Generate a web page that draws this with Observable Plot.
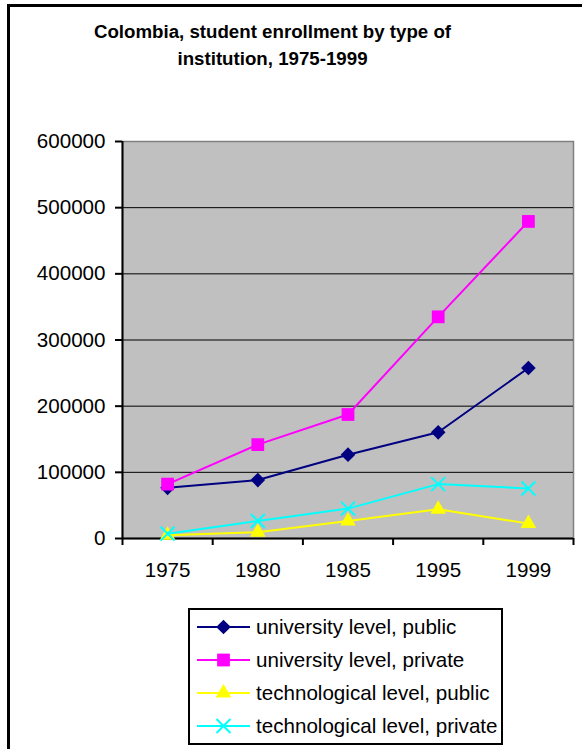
<!DOCTYPE html>
<html><head><meta charset="utf-8">
<script src="https://cdn.jsdelivr.net/npm/d3@7"></script>
<script src="https://cdn.jsdelivr.net/npm/@observablehq/plot@0.6"></script>
<style>
body{margin:0;background:#fff;font-family:"Liberation Sans",Arial,sans-serif;}
#wrap{position:relative;width:582px;height:749px;overflow:hidden;background:#fff;}
#border{position:absolute;left:7px;top:4px;width:700px;height:900px;border:3px solid #000;box-sizing:border-box;}
#title{position:absolute;left:0;top:18px;width:545px;text-align:center;font-weight:bold;font-size:18.7px;line-height:27px;color:#000;}
#chart{position:absolute;left:0;top:0;}
#legend{position:absolute;left:0;top:0;}
</style>
</head><body>
<div id="wrap">
  <div id="border"></div>
  <div id="title">Colombia, student enrollment by type of<br>institution, 1975-1999</div>
  <div id="chart"></div>
  <svg id="legend" width="582" height="749"></svg>
</div>
<script>
const years = ["1975", "1980", "1985", "1995", "1999"];
const seriesNames = ["university level, public", "university level, private", "technological level, public", "technological level, private"];
const univPublic = [76600, 88300, 126700, 160500, 257700];
const univPrivate = [82200, 141900, 187400, 335000, 479200];
const techPublic = [5000, 9500, 26500, 44300, 22500];
const techPrivate = [7300, 26500, 45200, 82200, 75600];
const yTicks = [0, 100000, 200000, 300000, 400000, 500000, 600000];

const seriesValues = [univPublic, univPrivate, techPublic, techPrivate];
const colors = ["#000080", "#FF00FF", "#FFFF00", "#00FFFF"];
const symbols = ["diamond2", "square", "triangle", "times"];
const radii = [6.6, 7.2, 5.8, 6.4];

const xDomain = [-0.5, years.length - 0.5];
const boundaries = d3.range(years.length + 1).map(i => i - 0.5);

const marks = [
  Plot.frame({fill: "#C0C0C0", stroke: "#808080", strokeWidth: 1.5}),
  Plot.ruleY(yTicks.slice(1, -1), {stroke: "#000", strokeWidth: 1}),
  Plot.axisY({ticks: yTicks, tickFormat: d3.format("d"), tickSize: 7, tickPadding: 10, strokeWidth: 2, fontSize: 20.6, label: null, color: "#000"}),
  Plot.axisX({ticks: boundaries, tickFormat: () => "", tickSize: 7, strokeWidth: 2, label: null}),
  Plot.axisX({ticks: d3.range(years.length), tickFormat: i => years[i], tickSize: 0, tickPadding: 24, fontSize: 20.6, label: null, color: "#000"}),
  Plot.ruleX([xDomain[0]], {stroke: "#000", strokeWidth: 2}),
  Plot.ruleY([0], {stroke: "#000", strokeWidth: 2})
];

seriesValues.forEach((vals, s) => {
  const data = vals.map((v, i) => ({i, v}));
  marks.push(Plot.line(data, {x: "i", y: "v", stroke: colors[s], strokeWidth: 2}));
  if (symbols[s] === "times") {
    marks.push(Plot.dot(data, {x: "i", y: "v", symbol: "times", stroke: colors[s], strokeWidth: 2, r: radii[s]}));
  } else {
    marks.push(Plot.dot(data, {x: "i", y: "v", symbol: symbols[s], fill: colors[s], stroke: "none", r: radii[s]}));
  }
});

const chart = Plot.plot({
  width: 582,
  height: 600,
  marginTop: 141,
  marginLeft: 122,
  marginRight: 9,
  marginBottom: 62,
  style: {background: "transparent", fontFamily: "'Liberation Sans', Arial, sans-serif", fontSize: "20.6px", color: "#000", overflow: "visible"},
  x: {type: "linear", domain: xDomain},
  y: {domain: [0, 600000]},
  marks
});
document.getElementById("chart").appendChild(chart);

// Legend
const lg = d3.select("#legend");
lg.append("rect").attr("x", 189).attr("y", 609).attr("width", 313).attr("height", 135)
  .attr("fill", "#fff").attr("stroke", "#000").attr("stroke-width", 2);
const symMap = {diamond2: d3.symbolDiamond2, square: d3.symbolSquare, triangle: d3.symbolTriangle, times: d3.symbolTimes};
seriesNames.forEach((name, s) => {
  const cy = 627 + 33 * s;
  const g = lg.append("g");
  g.append("line").attr("x1", 197).attr("x2", 250).attr("y1", cy).attr("y2", cy)
    .attr("stroke", colors[s]).attr("stroke-width", 2);
  const path = d3.symbol(symMap[symbols[s]], Math.PI * radii[s] * radii[s])();
  const p = g.append("path").attr("d", path).attr("transform", `translate(223.5,${cy})`);
  if (symbols[s] === "times") p.attr("fill", "none").attr("stroke", colors[s]).attr("stroke-width", 2);
  else p.attr("fill", colors[s]);
  g.append("text").attr("x", 256).attr("y", cy + 7).attr("font-size", 20.6)
    .attr("font-family", "'Liberation Sans', Arial, sans-serif").attr("fill", "#000").text(name);
});
</script>
</body></html>
